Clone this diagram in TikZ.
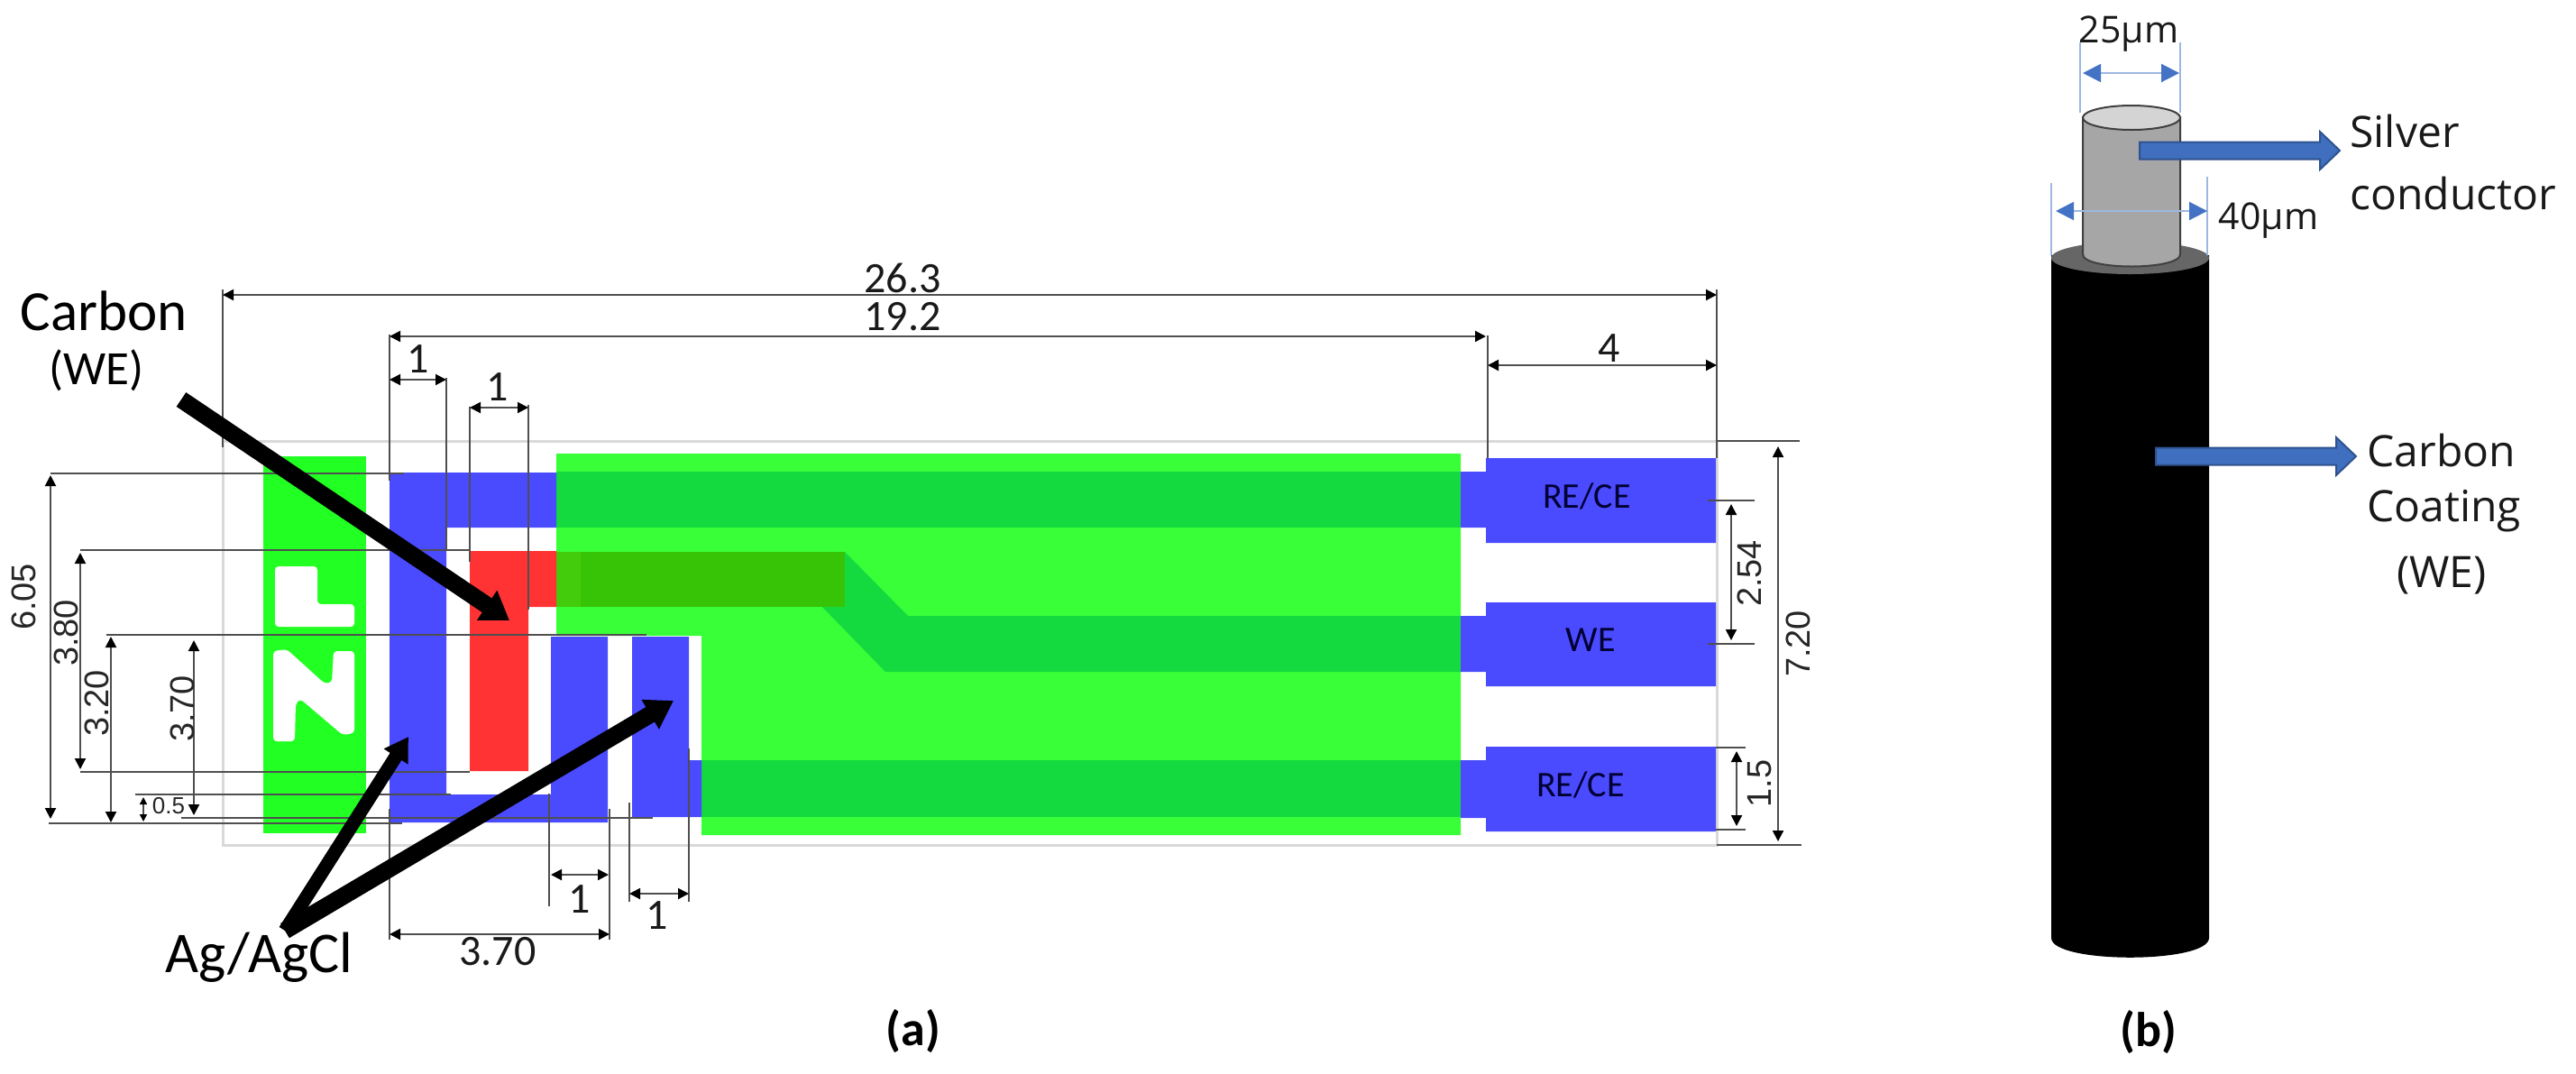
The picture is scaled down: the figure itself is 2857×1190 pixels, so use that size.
\documentclass[tikz,border=0pt]{standalone}
\usepackage{fontspec}
\usetikzlibrary{arrows.meta}
\setmainfont{Carlito}
\newfontfamily\dimfont{Liberation Sans}
\newfontfamily\wirefont{Open Sans}
\newcommand{\fpx}[1]{\fontsize{\fpeval{#1*0.5}}{\fpeval{#1*0.6}}\selectfont}
\definecolor{lgreen}{HTML}{38FF38}
\definecolor{pgreen}{HTML}{22FF22}
\definecolor{dgreen}{HTML}{14D93F}
\definecolor{olive}{HTML}{38C406}
\definecolor{olivel}{HTML}{42CC0C}
\definecolor{bluep}{HTML}{4A4AFF}
\definecolor{redp}{HTML}{FF3333}
\definecolor{dimgray}{HTML}{4F4F4F}
\definecolor{arrblue}{HTML}{3F6FBE}
\definecolor{arredge}{HTML}{2F528F}
\definecolor{dimblue}{HTML}{4472C4}
\definecolor{extblue}{HTML}{9DB7E2}
\tikzset{
  ext/.style={draw=dimgray,line width=1pt},
  dimdbl/.style={draw=dimgray,line width=1pt,{Triangle[length=6pt,width=6pt,color=black]}-{Triangle[length=6pt,width=6pt,color=black]}},
  pad/.style={fill=bluep,draw=none},
  lbl/.style={inner sep=0pt,text=black},
  dimv/.style={inner sep=0pt,rotate=90,font=\dimfont\fpx{38},text=black!85},
  dimh/.style={inner sep=0pt,font=\fpx{48},text=black!90},
  bigarrow/.style={draw=black,line cap=butt},
  bluearrow/.style={fill=arrblue,draw=arredge,line width=1pt},
  bluedim/.style={draw=extblue,line width=1pt,{Triangle[length=10pt,width=10pt,color=dimblue]}-{Triangle[length=10pt,width=10pt,color=dimblue]}},
  blueext/.style={draw=extblue,line width=1pt},
  wiretxt/.style={inner sep=0pt,font=\wirefont\fpx{48},text=black!90,anchor=west},
}
\begin{document}
\begin{tikzpicture}[x=0.5pt,y=-0.5pt]
\useasboundingbox (0,0) rectangle (2857,1190);
% substrate outline
\draw[draw=black!15,line width=1.5pt] (247,489) rectangle (1904,937);
% left green patch and logo
\fill[pgreen] (292,506) rectangle (406,924);
\fill[white,rounded corners=2pt] (305,628) -- (352,628) -- (352,670) -- (393,670) -- (393,695) -- (305,695) -- cycle;
\fill[white,rounded corners=2pt] (303,722) -- (318,720) -- (360,758) -- (368,757) -- (370,722) -- (393,722) -- (393,813) -- (380,815) -- (333,775) -- (328,780) -- (327,822) -- (303,822) -- cycle;
% big green
\fill[lgreen] (617,503) -- (1620,503) -- (1620,926) -- (778,926) -- (778,705) -- (617,705) -- cycle;
\fill[dgreen] (617,523) rectangle (1620,585);
\fill[dgreen] (937,612) -- (1007,683) -- (1620,683) -- (1620,745) -- (982,745) -- (912,673) -- cycle;
\fill[dgreen] (778,843) rectangle (1620,906);
\fill[olive] (617,612) rectangle (937,673);
\fill[olivel] (617,612) rectangle (644,673);
% blue tracks
\fill[pad] (432,524) -- (617,524) -- (617,585) -- (495,585) -- (495,881) -- (611,881) -- (611,706) -- (674,706) -- (674,912) -- (432,912) -- cycle;
\fill[pad] (701,706) -- (764,706) -- (764,843) -- (778,843) -- (778,906) -- (701,906) -- cycle;
\fill[redp] (521,611) -- (617,611) -- (617,673) -- (586,673) -- (586,855) -- (521,855) -- cycle;
% pads
\fill[pad] (1620,523) -- (1648,523) -- (1648,508) -- (1903,508) -- (1903,602) -- (1648,602) -- (1648,585) -- (1620,585) -- cycle;
\fill[pad] (1620,683) -- (1648,683) -- (1648,668) -- (1903,668) -- (1903,761) -- (1648,761) -- (1648,745) -- (1620,745) -- cycle;
\fill[pad] (1620,843) -- (1648,843) -- (1648,828) -- (1903,828) -- (1903,922) -- (1648,922) -- (1648,907) -- (1620,907) -- cycle;
\node[lbl,font=\fpx{40},text=black!80!blue] (pad1) at (1760,550) {RE/CE};
\node[lbl,font=\fpx{40},text=black!80!blue] (pad2) at (1764,710) {WE};
\node[lbl,font=\fpx{40},text=black!80!blue] (pad3) at (1753,870) {RE/CE};
% extension lines, left
\draw[ext] (56,525) -- (448,525);
\draw[ext] (89,610) -- (521,610);
\draw[ext] (118,704) -- (717,704);
\draw[ext] (89,856) -- (521,856);
\draw[ext] (150,881) -- (500,881);
\draw[ext] (201,907) -- (724,907);
\draw[ext] (54,913) -- (446,913);
% extension lines, top
\draw[ext] (247,321) -- (247,496);
\draw[ext] (432,371) -- (432,533);
\draw[ext] (495,419) -- (495,610);
\draw[ext] (521,451) -- (521,623);
\draw[ext] (586,449) -- (586,676);
\draw[ext] (1650,372) -- (1650,508);
\draw[ext] (1904,321) -- (1904,508);
% extension lines, bottom
\draw[ext] (432,897) -- (432,1042);
\draw[ext] (676,897) -- (676,1042);
\draw[ext] (609,880) -- (609,1005);
\draw[ext] (698,890) -- (698,1000);
\draw[ext] (764,830) -- (764,1000);
% extension lines, right
\draw[ext] (1904,489) -- (1996,489);
\draw[ext] (1904,937) -- (1998,937);
\draw[ext] (1894,555) -- (1946,555);
\draw[ext] (1894,714) -- (1946,714);
\draw[ext] (1903,829) -- (1936,829);
\draw[ext] (1903,920) -- (1936,920);
% dimension arrows
\draw[dimdbl] (247,327) -- (1904,327);
\draw[dimdbl] (432,373) -- (1648,373);
\draw[dimdbl] (432,421) -- (495,421);
\draw[dimdbl] (521,452) -- (586,452);
\draw[dimdbl] (1650,405) -- (1904,405);
\draw[dimdbl] (56,527) -- (56,908);
\draw[dimdbl] (89,613) -- (89,853);
\draw[dimdbl] (123,706) -- (123,912);
\draw[dimdbl] (215,710) -- (215,904);
\draw[dimgray,line width=.7pt,{Triangle[length=4pt,width=4pt,color=black]}-{Triangle[length=4pt,width=4pt,color=black]}] (159,884) -- (159,911);
\draw[dimdbl] (432,1036) -- (676,1036);
\draw[dimdbl] (611,970) -- (675,970);
\draw[dimdbl] (698,991) -- (764,991);
\draw[dimdbl] (1920,559) -- (1920,710);
\draw[dimdbl] (1972,495) -- (1972,933);
\draw[dimdbl] (1926,833) -- (1926,916);
% dimension labels
\node[dimh] (d263) at (1001,308) {26.3};
\node[dimh] (d192) at (1001,351) {19.2};
\node[dimh] (d4) at (1785,386) {4};
\node[dimh] (d1a) at (464,398) {1};
\node[dimh] (d1b) at (552,429) {1};
\node[dimh] (d1c) at (643,997) {1};
\node[dimh] (d1d) at (729,1015) {1};
\node[dimh] (d370h) at (552,1055) {3.70};
\node[dimv] (d605) at (26,662) {6.05};
\node[dimv] (d380) at (73,702) {3.80};
\node[dimv] (d320) at (107,780) {3.20};
\node[dimv] (d370v) at (202,786) {3.70};
\node[dimv] (d254) at (1940,636) {2.54};
\node[dimv] (d720) at (1994,714) {7.20};
\node[dimv] (d15) at (1952,869) {1.5};
\node[inner sep=0pt,font=\dimfont\fpx{26},text=black!85] (d05) at (187,894) {0.5};
% callouts
\node[lbl,font=\fpx{63}] (carbon) at (115,345) {Carbon};
\node[lbl,font=\fpx{53}] (carbonwe) at (107,411) {(WE)};
\node[lbl,font=\fpx{64}] (agcl) at (287,1062) {Ag/AgCl};
\coordinate (cstart) at (201,443);
\coordinate (ctip) at (565,688);
\coordinate (astart) at (316,1032);
\coordinate (atip1) at (453,817);
\coordinate (atip2) at (747,777);
\draw[bigarrow,line width=9.5pt,-{Triangle[length=15pt,width=18pt,color=black]}] (astart) -- (atip2);
\draw[bigarrow,line width=7.5pt,-{Triangle[length=13pt,width=15pt,color=black]}] (astart) -- (atip1);
\draw[bigarrow,line width=9.5pt,-{Triangle[length=15pt,width=19pt,color=black]}] (cstart) -- (ctip);
% captions
\node[lbl,font=\bfseries\fpx{54}] (capa) at (1013,1144) {(a)};
\node[lbl,font=\bfseries\fpx{54}] (capb) at (2383,1145) {(b)};
% wire
\fill[black] (2275,283) -- (2275,1040) .. controls (2275,1069) and (2450,1069) .. (2450,1040) -- (2450,283) -- cycle;
\fill[black!60] (2362.5,286) ellipse [x radius=87.5,y radius=18];
\path[fill=black!35,draw=black!75,line width=1pt] (2310,130) -- (2310,282) .. controls (2310,300) and (2418,300) .. (2418,282) -- (2418,130) -- cycle;
\path[fill=black!17,draw=black!75,line width=1pt] (2364,130.5) ellipse [x radius=54,y radius=13.5];
% wire dimensions
\draw[blueext] (2307,47) -- (2307,125);
\draw[blueext] (2418,47) -- (2418,125);
\draw[bluedim] (2310,81) -- (2417,81);
\draw[blueext] (2275,203) -- (2275,283);
\draw[blueext] (2448,196) -- (2448,283);
\draw[bluedim] (2280,234) -- (2448,234);
\node[inner sep=0pt,font=\wirefont\fpx{41},text=black!90] (d25) at (2361,38) {25µm};
\node[inner sep=0pt,font=\wirefont\fpx{41},text=black!90] (d40) at (2516,245) {40µm};
% blue pointers
\path[bluearrow] (2373,157.5) -- (2573,157.5) -- (2573,146) -- (2595,167) -- (2573,188) -- (2573,176.5) -- (2373,176.5) -- cycle;
\path[bluearrow] (2391,496.5) -- (2591,496.5) -- (2591,485) -- (2613,506) -- (2591,527) -- (2591,515.5) -- (2391,515.5) -- cycle;
\node[wiretxt] (silver) at (2606,145) {Silver};
\node[wiretxt] (cond) at (2606,214) {conductor};
\node[wiretxt] (carb2) at (2625,499) {Carbon};
\node[wiretxt] (coat) at (2625,567) {Coating};
\node[wiretxt,anchor=center] (we2) at (2708,638) {(WE)};
\end{tikzpicture}
\end{document}
